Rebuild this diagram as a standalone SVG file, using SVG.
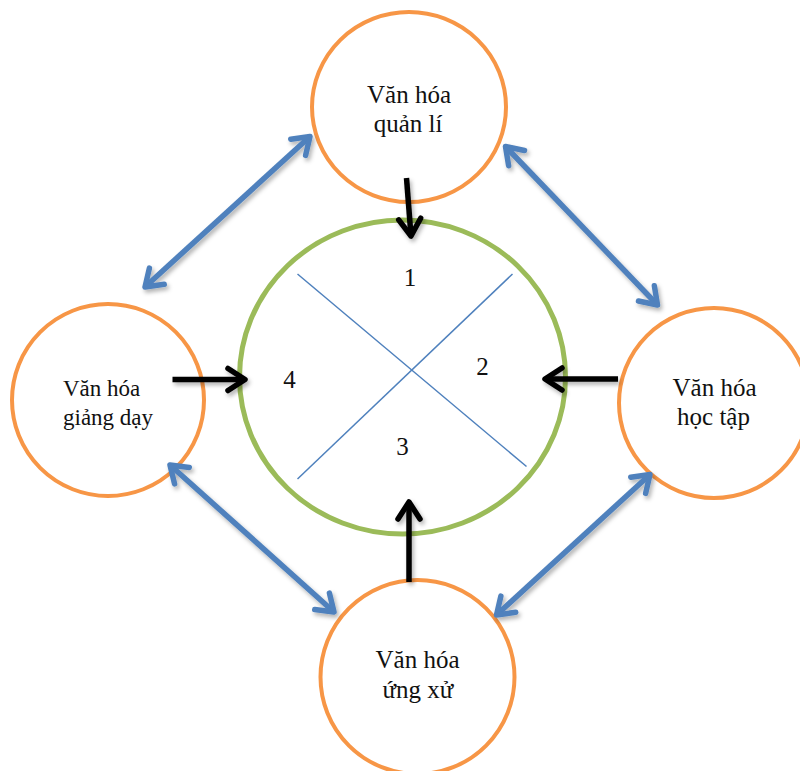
<svg xmlns="http://www.w3.org/2000/svg" width="800" height="771" viewBox="0 0 800 771">
  <style>
    .ring { fill: #ffffff; stroke: #f79646; stroke-width: 4; }
    .hub { fill: #ffffff; stroke: #9bbb59; stroke-width: 5; }
    .divider { stroke: #4f81bd; stroke-width: 1.5; fill: none; }
    .label { font-family: "Liberation Serif", "Times New Roman", serif; font-size: 25px; fill: #111111; text-anchor: middle; }
    .label-sm { font-family: "Liberation Serif", "Times New Roman", serif; font-size: 23px; fill: #111111; }
    .link { stroke: #4f81bd; stroke-width: 5.5; fill: none; marker-start: url(#head-blue); marker-end: url(#head-blue); }
    .flow { stroke: #000000; stroke-width: 5.5; fill: none; marker-end: url(#head-black); }
  </style>
  <defs>
    <filter id="soft" filterUnits="userSpaceOnUse" x="0" y="0" width="800" height="771">
      <feDropShadow dx="2" dy="3" stdDeviation="2" flood-color="#000000" flood-opacity="0.3"/>
    </filter>
    <marker id="head-blue" markerUnits="userSpaceOnUse" viewBox="-22 -16 26 32" refX="0" refY="0" markerWidth="26" markerHeight="32" orient="auto-start-reverse" overflow="visible">
      <path d="M-16,-11 L0,0 L-16,11" fill="none" stroke="#4f81bd" stroke-width="5.5" stroke-linecap="round" stroke-linejoin="round"/>
    </marker>
    <marker id="head-black" markerUnits="userSpaceOnUse" viewBox="-22 -16 26 32" refX="0" refY="0" markerWidth="26" markerHeight="32" orient="auto" overflow="visible">
      <path d="M-17,-11 L0,0 L-17,11" fill="none" stroke="#000000" stroke-width="5.5" stroke-linecap="round" stroke-linejoin="round"/>
    </marker>
  </defs>

  <rect width="800" height="771" fill="#ffffff"/>

  <!-- central circle split into four quadrants -->
  <g id="node-center">
    <ellipse class="hub" cx="402.5" cy="377" rx="163" ry="157"/>
    <line class="divider" x1="297.5" y1="274" x2="526.5" y2="466.5"/>
    <line class="divider" x1="512.5" y1="274" x2="297.5" y2="479"/>
    <text class="label" x="410" y="286">1</text>
    <text class="label" x="482.5" y="375">2</text>
    <text class="label" x="402.5" y="455">3</text>
    <text class="label" x="289.5" y="388">4</text>
  </g>

  <g id="node-quan-li">
    <ellipse class="ring" cx="409" cy="107" rx="97" ry="95"/>
    <text class="label" x="409" y="103">Văn hóa</text>
    <text class="label" x="408" y="132">quản lí</text>
  </g>

  <g id="node-giang-day">
    <circle class="ring" cx="108" cy="400" r="96"/>
    <text class="label-sm" x="63" y="396">Văn hóa</text>
    <text class="label-sm" x="63" y="425">giảng dạy</text>
  </g>

  <g id="node-hoc-tap">
    <circle class="ring" cx="714" cy="403" r="95"/>
    <text class="label" x="714.5" y="396">Văn hóa</text>
    <text class="label" x="713.5" y="425">học tập</text>
  </g>

  <g id="node-ung-xu">
    <circle class="ring" cx="417.5" cy="677" r="97"/>
    <text class="label" x="417.5" y="668">Văn hóa</text>
    <text class="label" x="418" y="698">ứng xử</text>
  </g>

  <g id="connectors" filter="url(#soft)">
    <!-- two-way links between the outer circles -->
    <line class="link" x1="145" y1="287" x2="310" y2="136.5"/>
    <line class="link" x1="505.5" y1="146.5" x2="657.5" y2="305"/>
    <line class="link" x1="170" y1="465" x2="334" y2="612"/>
    <line class="link" x1="650" y1="474.5" x2="496.5" y2="615"/>
    <!-- each outer circle feeds the centre -->
    <line class="flow" x1="406.5" y1="178" x2="411" y2="236"/>
    <line class="flow" x1="172.5" y1="379.5" x2="245" y2="379.5"/>
    <line class="flow" x1="618" y1="379" x2="545" y2="379"/>
    <line class="flow" x1="409" y1="582" x2="409" y2="502"/>
  </g>
</svg>
